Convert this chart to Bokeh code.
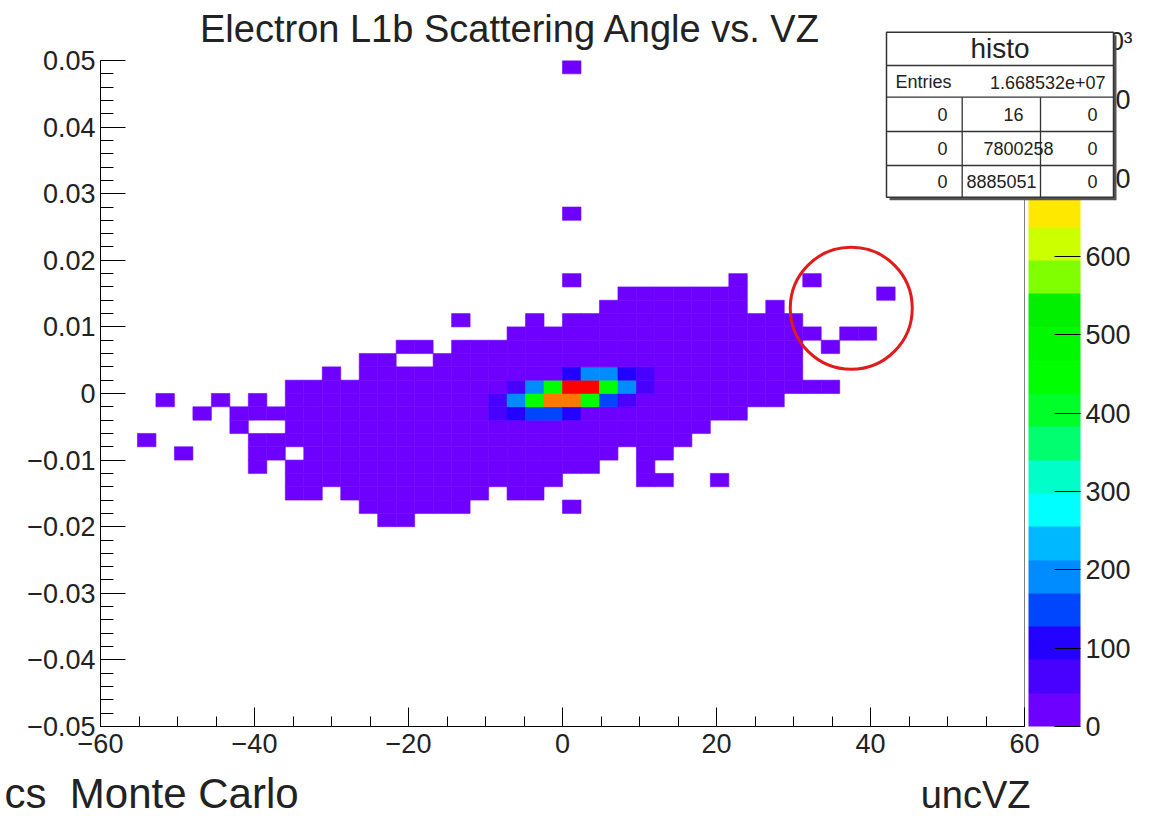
import numpy as np
from bokeh.plotting import figure
from bokeh.models import (LinearColorMapper, ColorBar, FixedTicker, Span, ColumnDataSource,
                          Range1d, GridBox)
from bokeh.core.properties import value
from bokeh.transform import transform
from bokeh.embed import file_html
from bokeh.resources import INLINE

# ---------------- data ----------------
# histogram binning: 50 x 50 bins
VZ_MIN, VZ_MAX, N_VZ = -60.0, 60.0, 50
ANG_MIN, ANG_MAX, N_ANG = -0.05, 0.05, 50

# low-count (violet) bins, given as runs along uncVZ for each angle row:
# angle of the row (bin centre), uncVZ centre of first and of last bin in the run
run_angle = [0.049, 0.027,
             0.017, 0.017, 0.017,
             0.015, 0.015,
             0.013, 0.013,
             0.011, 0.011, 0.011,
             0.009, 0.009,
             0.007, 0.007, 0.007,
             0.005, 0.005,
             0.003, 0.003,
             0.001,
             -0.001, -0.001, -0.001, -0.001,
             -0.003, -0.003,
             -0.005, -0.005,
             -0.007, -0.007,
             -0.009, -0.009, -0.009, -0.009,
             -0.011, -0.011, -0.011,
             -0.013, -0.013, -0.013,
             -0.015, -0.015, -0.015,
             -0.017, -0.017,
             -0.019]
run_vz_first = [1.2, 1.2,
                1.2, 22.8, 32.4,
                8.4, 42.0,
                6.0, 27.6,
                -13.2, -3.6, 1.2,
                -6.0, 37.2,
                -20.4, -13.2, 34.8,
                -25.2, -15.6,
                -30.0, -25.2,
                -34.8,
                -51.6, -44.4, -39.6, -34.8,
                -46.8, -42.0,
                -42.0, -34.8,
                -54.0, -39.6,
                -49.2, -39.6, -32.4, 10.8,
                -39.6, -34.8, 10.8,
                -34.8, 10.8, 20.4,
                -34.8, -27.6, -6.0,
                -25.2, 1.2,
                -22.8]
run_vz_last = [1.2, 1.2,
               1.2, 22.8, 32.4,
               22.8, 42.0,
               22.8, 27.6,
               -13.2, -3.6, 30.0,
               32.4, 39.6,
               -18.0, 30.0, 34.8,
               -22.8, 30.0,
               -30.0, 30.0,
               34.8,
               -51.6, -44.4, -39.6, 27.6,
               -46.8, 22.8,
               -42.0, 18.0,
               -54.0, 15.6,
               -49.2, -37.2, 6.0, 13.2,
               -39.6, 3.6, 10.8,
               -1.2, 13.2, 20.4,
               -32.4, -10.8, -3.6,
               -13.2, 1.2,
               -20.4]
low_count = 10  # entries per bin, thousands (lowest colour band)

# bins with higher counts (thousands of entries)
core_vz = [1.2, 3.6, 6.0, 8.4, 10.8,
           -6.0, -3.6, -1.2, 1.2, 3.6, 6.0, 8.4, 10.8,
           -8.4, -6.0, -3.6, -1.2, 1.2, 3.6, 6.0, 8.4,
           -8.4, -6.0, -3.6, -1.2, 1.2]
core_angle = [0.003] * 5 + [0.001] * 8 + [-0.001] * 8 + [-0.003] * 5
core_count = [100, 190, 190, 100, 55,
              55, 190, 450, 830, 830, 450, 190, 55,
              55, 190, 450, 750, 750, 450, 150, 80,
              55, 100, 140, 140, 100]

x_ticks = [-60, -40, -20, 0, 20, 40, 60]
x_labels = ["\u221260", "\u221240", "\u221220", "0", "20", "40", "60"]
y_ticks = [-0.05, -0.04, -0.03, -0.02, -0.01, 0.0, 0.01, 0.02, 0.03, 0.04, 0.05]
y_labels = ["\u22120.05", "\u22120.04", "\u22120.03", "\u22120.02", "\u22120.01", "0",
            "0.01", "0.02", "0.03", "0.04", "0.05"]
z_ticks = [0, 100, 200, 300, 400, 500, 600, 700, 800]
z_max = 850

# circled outliers (centre in data units)
circle_vz, circle_angle = [37.5], [0.0128]

stats_title = "histo"
stats_entries_label = "Entries"
stats_entries = "1.668532e+07"
stats_grid = [["0", "16", "0"], ["0", "7800258", "0"], ["0", "8885051", "0"]]

palette = ["#6e00ff", "#4800ff", "#2400ff", "#0046ff", "#008cff", "#00b8ff", "#00ffff",
           "#00ffc8", "#00ff70", "#00ff28", "#00ff00", "#00f800", "#00f000", "#80ff00",
           "#ccff00", "#ffe800", "#ffb400", "#ff7800", "#ff3c00", "#ff0000"]

# ---------------- build bins ----------------
BW = (VZ_MAX - VZ_MIN) / N_VZ
BH = (ANG_MAX - ANG_MIN) / N_ANG
def ix(v):
    return int(round((v - VZ_MIN) / BW - 0.5))
def iy(a):
    return int(round((a - ANG_MIN) / BH - 0.5))

counts = {}
for a, v0, v1 in zip(run_angle, run_vz_first, run_vz_last):
    for i in range(ix(v0), ix(v1) + 1):
        counts[(i, iy(a))] = low_count
for v, a, c in zip(core_vz, core_angle, core_count):
    counts[(ix(v), iy(a))] = c

keys = sorted(counts)
src = ColumnDataSource(dict(
    left=[VZ_MIN + i * BW for i, j in keys],
    right=[VZ_MIN + (i + 1) * BW for i, j in keys],
    bottom=[ANG_MIN + j * BH for i, j in keys],
    top=[ANG_MIN + (j + 1) * BH for i, j in keys],
    count=[counts[k] for k in keys],
))

mapper = LinearColorMapper(palette=palette, low=0, high=z_max)

FONT = "Liberation Sans"
TXT = "#222222"
W, H = 1152, 816

# ---------------- main histogram figure ----------------
p = figure(width=W, height=H, output_backend="svg", toolbar_location=None,
           x_range=Range1d(VZ_MIN, VZ_MAX), y_range=Range1d(ANG_MIN, ANG_MAX),
           min_border_left=100, min_border_right=128, min_border_top=60, min_border_bottom=90)
p.background_fill_color = "white"
p.border_fill_color = "white"
p.outline_line_color = None
p.xgrid.grid_line_color = None
p.ygrid.grid_line_color = None
p.frame_align = False

p.quad(left="left", right="right", bottom="bottom", top="top", source=src,
       fill_color=transform("count", mapper), line_color=transform("count", mapper),
       line_width=0.6)

xa = p.xaxis[0]
xa.ticker = FixedTicker(ticks=x_ticks, minor_ticks=list(np.arange(-60, 61, 5)))
xa.major_label_overrides = dict(zip(x_ticks, x_labels))
ya = p.yaxis[0]
ya.ticker = FixedTicker(ticks=y_ticks,
                        minor_ticks=[round(v, 3) for v in np.arange(-0.05, 0.0501, 0.002)])
ya.major_label_overrides = dict(zip(y_ticks, y_labels))
for ax, mj, mn in ((xa, 19, 10), (ya, 25, 13)):
    ax.major_tick_in = mj
    ax.major_tick_out = 0
    ax.minor_tick_in = mn
    ax.minor_tick_out = 0
    ax.axis_line_color = "black"
    ax.major_tick_line_color = "black"
    ax.minor_tick_line_color = "black"
    ax.major_label_text_font = FONT
    ax.major_label_text_font_size = "27px"
    ax.major_label_text_color = TXT
xa.major_label_standoff = 7
ya.major_label_standoff = 5

p.add_layout(Span(location=VZ_MAX, dimension="height", line_color="black", line_width=1))

p.scatter(x=circle_vz, y=circle_angle, size=122, marker="circle", fill_color=None,
          line_color="#e01b1b", line_width=3)

cb = ColorBar(color_mapper=mapper, ticker=FixedTicker(ticks=z_ticks), width=52, height=666,
              location=(4, 0), padding=0, margin=0, major_tick_in=26, major_tick_out=0,
              major_tick_line_color="black", minor_tick_line_color=None,
              major_label_text_font=FONT, major_label_text_font_size="27px",
              major_label_text_color=TXT, label_standoff=5,
              bar_line_color=None, border_line_color=None, background_fill_color=None)
p.add_layout(cb, "right")

# ---------------- overlay (pixel space) for page texts and stats box ----------------
q = figure(width=W, height=H, output_backend="svg", toolbar_location=None,
           x_range=Range1d(0, W), y_range=Range1d(H, 0),
           x_axis_location=None, y_axis_location=None,
           min_border=0, min_border_left=0, min_border_right=0,
           min_border_top=0, min_border_bottom=0)
q.background_fill_alpha = 0
q.border_fill_alpha = 0
q.outline_line_color = None
q.grid.grid_line_color = None
q.frame_align = False

def txt(x, y, t, size, align="center"):
    q.text(x=[x], y=[y], text=[t], text_align=align, text_baseline="middle",
           text_font=value(FONT), text_font_size=size, text_color=TXT)

# colour-bar multiplier (mostly hidden behind the stats box)
txt(1132, 40, "\u00d710\u00b3", "26px", "right")

# stats box
q.quad(left=[889], right=[1116], top=[34.7], bottom=[199.7], fill_color="#555555",
       line_color=None)
q.quad(left=[886], right=[1113], top=[31.7], bottom=[196.7], fill_color="white",
       line_color="#333333", line_width=1.5)
q.segment(x0=[886] * 4, x1=[1113] * 4, y0=[65, 96.7, 131, 165], y1=[65, 96.7, 131, 165],
          line_color="#333333", line_width=1.3)
q.segment(x0=[961.7, 1040], x1=[961.7, 1040], y0=[96.7, 96.7], y1=[196.7, 196.7],
          line_color="#333333", line_width=1.3)

txt(999.5, 48, stats_title, "28px")
txt(895, 81.5, stats_entries_label, "18px", "left")
txt(1105, 81.5, stats_entries, "18px", "right")
row_y = [114, 148, 181]
mid_x = [1013, 1018, 1001]
for r, row in enumerate(stats_grid):
    txt(947, row_y[r], row[0], "18px", "right")
    txt(mid_x[r], row_y[r], row[1], "18px", "center")
    txt(1097, row_y[r], row[2], "18px", "right")

# titles
txt(510, 28, "Electron L1b Scattering Angle vs. VZ", "38px", "center")
txt(1030, 794, "uncVZ", "38px", "right")
txt(4, 793, "cs\u00a0 Monte Carlo", "42px", "left")

layout = GridBox(children=[(p, 0, 0), (q, 0, 0)])
open("out.html", "w").write(file_html(layout, INLINE))
